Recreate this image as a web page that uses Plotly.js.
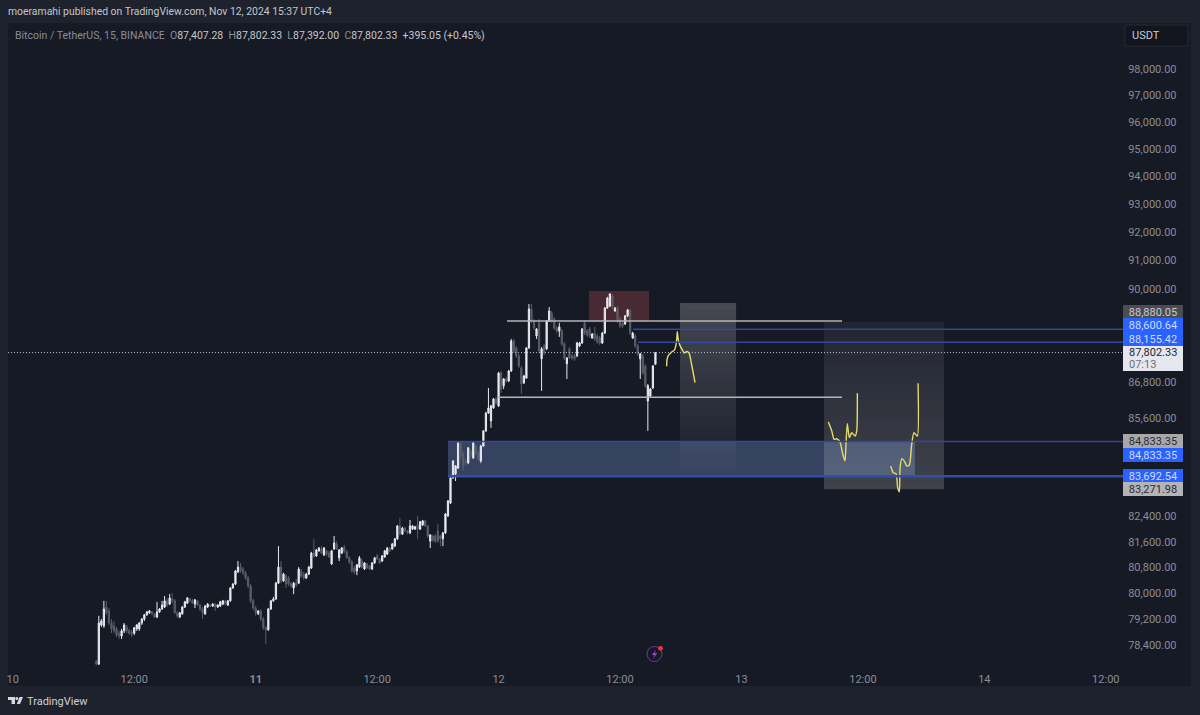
<!DOCTYPE html>
<html>
<head>
<meta charset="utf-8">
<script src="https://cdn.plot.ly/plotly-3.0.1.min.js"></script>
<style>html,body{margin:0;padding:0;background:#1e222d;overflow:hidden}#chart{width:1200px;height:715px}</style>
</head>
<body>
<div id="chart"></div>
<script>
// 15-minute BTC/USDT bars, starting 2024-11-10 08:15
const firstBarHour = 8.25;
const opens = [77910,77820,79010,78980,79560,79440,79070,78980,78890,78760,78670,78830,78950,78830,78790,78760,78890,78890,79070,79190,79320,79380,79410,79350,79250,79410,79500,79560,79750,79650,79810,79750,79380,79250,79350,79560,79680,79810,79750,79650,79750,79620,79500,79350,79560,79620,79590,79650,79560,79590,79650,79750,79620,79750,80150,80270,80650,80800,80740,80620,80460,80210,79750,79530,79350,79440,79190,78920,78860,79500,79750,79810,80300,80800,80370,80520,80460,80270,80150,80300,80300,80680,80580,80460,80580,80770,81240,81150,81310,81370,81180,81310,81240,80900,81370,81530,81090,81240,81430,81280,81090,80960,80770,80680,80800,80990,80740,80900,80840,80740,80930,81150,81060,80990,81120,81210,81400,81370,81460,81690,82100,81840,82030,81940,81880,82000,82000,82130,82000,82130,82260,82100,81620,81780,81780,81940,81780,81690,81880,82420,82830,83640,83770,83960,84780,84450,84190,84130,84520,84290,84680,84450,84190,84680,85180,85770,85510,85940,86240,86010,87110,86680,86910,86840,87180,88200,87960,87690,87280,86780,86940,87960,89300,88890,88370,88820,87590,88030,87930,88890,89160,88950,88640,88540,88540,88100,87420,87930,87690,87690,87690,88030,88130,88820,88540,88610,88300,88470,88370,88300,88130,88470,89330,89400,89750,89230,89330,88950,88820,88780,89060,89230,88300,88370,88030,87590,87690,87350,86170,86340,86610,87407.28];
const highs = [77940,79290,79190,79750,79750,79530,79190,79130,78950,78830,78890,79070,79010,78890,78860,78950,79040,79100,79220,79350,79440,79470,79440,79380,79720,79530,79750,79900,79840,79960,79990,79810,79440,79410,79590,79750,79870,79840,79810,79810,79780,79650,79560,79620,79680,79650,79680,79680,79650,79750,79780,79780,79780,80180,80300,80710,80990,80930,80800,80680,80520,80270,79810,79590,79470,79500,79250,78980,79530,79780,79870,80340,81460,80990,80620,80580,80520,80340,80340,80430,80800,80740,80650,80620,80840,81280,81690,81370,81430,81460,81430,81340,81310,81340,81780,81620,81370,81430,81500,81340,81150,81020,80840,80900,81150,81060,80960,80930,80870,80960,81120,81210,81090,81180,81340,81430,81430,81560,81720,82130,82350,82070,82070,81970,82290,82130,82100,82420,82260,82290,82290,82130,81840,81810,81840,82160,81810,81910,82510,82930,83670,84220,84060,84810,84810,84520,84260,84650,84550,84810,84720,84520,84720,85210,85810,86610,86040,86270,86310,87150,87180,86940,86980,87210,88270,88270,88030,87760,87350,87050,87990,89470,89470,88950,88640,88950,87990,88100,88920,89370,89230,89020,88710,88820,88610,88170,87650,87990,87760,87760,88170,88170,88640,88890,88610,88680,88470,88680,88440,88370,88510,89370,89720,89850,89820,89370,89400,89020,88890,89090,89300,89300,88510,88440,88100,87790,87760,87420,86740,86610,87380,87802.33];
const lows = [77790,77790,78950,78920,79320,79010,78760,78760,78640,78580,78580,78760,78760,78700,78640,78700,78830,78830,79010,79130,79290,79350,79320,79220,79220,79380,79470,79530,79560,79620,79680,79350,79220,79220,79320,79530,79650,79720,79650,79530,79590,79440,79190,79320,79530,79560,79560,79440,79530,79560,79620,79620,79590,79720,80120,80240,80620,80620,80550,80400,80150,79680,79470,79290,79320,79130,78860,78430,78830,79470,79720,79780,80270,80300,80340,80150,80210,80150,79960,80180,80270,80460,80400,80430,80550,80740,81090,81120,81280,81210,81150,81150,81090,80870,81340,81340,80990,81210,81240,81060,80900,80620,80580,80550,80770,80770,80710,80740,80710,80710,80900,81020,80900,80960,81090,81180,81280,81340,81430,81650,81810,81810,81910,81840,81840,81970,81970,81690,81970,82100,82070,81720,81400,81590,81560,81560,81460,81460,81840,82390,82800,83610,83540,83930,84260,83870,84060,84090,84260,84260,84390,84190,84130,84650,85140,85740,85280,85910,86040,85970,86440,86570,86780,86810,87150,87790,87620,87280,86410,86740,86910,87930,88820,88580,88270,87790,86510,87720,87890,88850,88820,88580,88470,88340,88030,87550,86910,87590,87550,87520,87650,87990,88100,88400,88340,88300,88270,88200,88100,88060,88100,88440,89300,89370,89300,89200,88820,88640,88640,88750,89020,88400,88270,87960,87690,86910,87050,86610,85180,86310,86570,87392.00];
const closes = [77820,79070,79130,79500,79380,79070,78890,78830,78700,78670,78830,79010,78830,78760,78730,78920,79010,79070,79190,79320,79410,79440,79350,79250,79410,79500,79620,79750,79620,79840,79750,79380,79290,79380,79560,79720,79840,79750,79680,79780,79620,79500,79380,79590,79650,79590,79650,79560,79620,79720,79750,79650,79750,80150,80270,80680,80800,80680,80620,80460,80210,79750,79530,79380,79440,79190,78920,78860,79500,79750,79810,80300,80800,80370,80580,80270,80270,80210,80300,80240,80740,80520,80460,80580,80800,81240,81150,81340,81400,81240,81400,81210,81120,81310,81560,81370,81340,81400,81280,81090,80960,80680,80650,80870,81090,80800,80930,80770,80740,80930,81090,81060,80930,81150,81310,81400,81310,81530,81690,82100,81840,82030,81940,81880,82100,82100,82070,82000,82230,82260,82100,81780,81810,81650,81620,81620,81690,81880,82480,82900,83640,84190,84030,84780,84360,84030,84130,84620,84360,84780,84450,84260,84680,85180,85770,85940,86010,86240,86110,87110,86570,86910,86840,87180,88200,87860,87690,87350,86740,87010,87960,89300,88890,88640,88610,87860,87930,87790,88890,89230,88890,88640,88540,88680,88100,87620,87620,87620,87620,87590,88130,88130,88610,88470,88400,88370,88440,88270,88170,88130,88470,89330,89680,89820,89370,89330,88890,88710,88710,89060,89270,88470,88470,88030,87760,87760,87110,86680,86680,86570,87350,87802.33];

// Hand-drawn yellow projections: hours since Nov 10 00:00, and prices
const yellowAHours = [64.61,64.64,64.77,65.01,65.17,65.36,65.50,65.60,65.66,65.76,65.93,66.20,66.35,66.59,66.82,67.08,67.41];
const yellowAPrices = [87340,87560,87700,87790,87840,87880,88010,88240,88520,88240,88040,87870,87790,87840,87790,87390,86790];
const yellowBHours = [80.58,80.92,81.15,81.41,81.74,82.01,82.23,82.33,82.46,82.66,82.90,83.22,83.39,83.45];
const yellowBPrices = [85470,85180,84900,84920,84810,84410,84190,84750,85420,84960,85120,85010,85180,86430];
const yellowCHours = [86.75,87.00,87.27,87.44,87.60,87.67,87.84,88.09,88.33,88.59,88.82,89.05,89.38,89.45];
const yellowCPrices = [84030,83810,83780,83320,83190,83970,84270,84190,84030,84060,84740,85120,85010,86770];

const priceTicks = [98000,97000,96000,95000,94000,93000,92000,91000,90000,86800,85600,82400,81600,80800,80000,79200,78400];
const timeTickHours = [0,12,24,36,48,60,72,84,96,108];
const timeTickLabels = ['10','12:00','<b>11</b>','12:00','12','12:00','13','12:00','14','12:00'];

const lastPrice = 87802.33;
const zoneTop = 84833.35, zoneBottom = 83692.54;
const upperLevelA = 88600.64, upperLevelB = 88155.42;
const whiteLevelTop = 88880.05, whiteLevelBottom = 86300;
const boxBottomPrice = 83271.98;

const rightHour = 109.7;
const iso = h => new Date(Date.UTC(2024,10,10) + h*3600e3).toISOString().slice(0,19);
const barTimes = opens.map((_, i) => iso(firstBarHour + i*0.25));

// pixel helpers for page furniture outside the data scales
const PL=8, PR=1123, PT=23, PB=665;
const fx = p => (p-PL)/(PR-PL);
const fy = p => 1-(p-PT)/(PB-PT);
const paperRect = (x0,y0,x1,y1,fill,line,layer) => ({type:'rect',xref:'paper',yref:'paper',x0:fx(x0),x1:fx(x1),y0:fy(y0),y1:fy(y1),fillcolor:fill,line:{width:line?1:0,color:line||'rgba(0,0,0,0)'},layer:layer||'below'});
const paperPath = (pts,fill) => ({type:'path',xref:'paper',yref:'paper',path:'M'+pts.map(p=>fx(p[0])+','+fy(p[1])).join('L')+'Z',fillcolor:fill,line:{width:0},layer:'above'});
const paperCircle = (cx,cy,r,fill,line) => ({type:'circle',xref:'paper',yref:'paper',x0:fx(cx-r),x1:fx(cx+r),y0:fy(cy-r),y1:fy(cy+r),fillcolor:fill,line:{width:line?1:0,color:line||'rgba(0,0,0,0)'},layer:'above'});

const dataRect = (h0,h1,p0,p1,fill,layer) => ({type:'rect',xref:'x',yref:'y',x0:iso(h0),x1:iso(h1),y0:p0,y1:p1,fillcolor:fill,line:{width:0},layer:layer||'below'});
const level = (h0,h1,p,color,width,dash,layer) => ({type:'line',xref:'x',yref:'y',x0:iso(h0),x1:iso(h1),y0:p,y1:p,line:{color,width,dash:dash||'solid'},layer:layer||'above'});

// vertical fade inside a box, as thin slices
function fade(h0,h1,pTop,pBot,aTop,aBot){
  const out=[], n=24, a=Math.log(pTop), b=Math.log(pBot);
  for(let i=0;i<n;i++){
    const t0=i/n, t1=(i+1)/n;
    out.push(dataRect(h0,h1,Math.exp(a+(b-a)*t0),Math.exp(a+(b-a)*t1),
      'rgba(255,255,255,'+(aTop+(aBot-aTop)*(t0+t1)/2).toFixed(3)+')'));
  }
  return out;
}

const shapes = [
  paperRect(8,23,1191,686,'#161a25'),
  paperRect(1125,25,1188,46,'#13151e','#262a35','above'),
  dataRect(56.94,62.87,88880,89924,'rgba(240,90,90,0.24)'),
  dataRect(43.0,89.15,zoneBottom,zoneTop,'rgba(130,165,240,0.29)'),
  ...fade(65.93,71.47,89507,83800,0.21,0.02),
  ...fade(80.16,92.02,88850,boxBottomPrice,0.05,0.18),
  level(61.29,rightHour,upperLevelA,'#2c4a9e',1.5),
  level(61.78,rightHour,upperLevelB,'#2c4a9e',1.5),
  level(43.0,rightHour,zoneTop,'#2c4a9e',1.5),
  level(43.0,rightHour,zoneBottom,'#2f4fa8',2.5),
  level(48.83,81.94,whiteLevelTop,'#b4b5b9',1.5),
  level(47.94,81.94,whiteLevelBottom,'#b4b5b9',1.5),
  level(-0.48,rightHour,lastPrice,'#c8c9cf',1,'1px,2px'),
  paperRect(1123,346,1183,371,'#e6e7ee',null,'above'),
  // TradingView logo
  paperPath([[8,697],[15,697],[15,704],[11.5,704],[11.5,700],[8,700]],'#d8d9de'),
  paperCircle(16.8,698.4,1.5,'#d8d9de'),
  paperPath([[23,697],[20,704],[16.8,704],[19.6,697]],'#d8d9de'),
  // bolt badge
  paperCircle(654.5,654,7.5,'rgba(0,0,0,0)','#6f3a96'),
  paperPath([[656.2,649.5],[651.8,655],[654.4,655],[653,658.8],[657.2,653.3],[654.6,653.3]],'#9a48c8'),
  paperCircle(660.5,648.3,2.4,'#f23645')
];

const txt = (px,py,text,color,size,anchor) => ({xref:'paper',yref:'paper',x:fx(px),y:fy(py),text,showarrow:false,xanchor:anchor||'left',yanchor:'middle',font:{family:'Roboto',size:size||11,color:color||'#c8cad0'},borderpad:0,borderwidth:0});
const priceTag = (price,label,bg,color,yshift) => ({xref:'paper',yref:'y',x:1,y:Math.log10(price),xanchor:'left',yanchor:'middle',yshift,text:label,showarrow:false,width:60,height:14,align:'center',valign:'middle',bgcolor:bg,borderpad:0,borderwidth:0,font:{family:'Roboto',size:11,color}});

const G='#8a8d96', V='#c6c8ce';
const annotations = [
  txt(8,12,'moeramahi published on TradingView.com, Nov 12, 2024 15:37 UTC+4','#c4c6cc',10.4),
  txt(15,35,`<span style="color:${G}">Bitcoin / TetherUS, 15, BINANCE  O</span><span style="color:${V}">87,407.28</span><span style="color:${G}">  H</span><span style="color:${V}">87,802.33</span><span style="color:${G}">  L</span><span style="color:${V}">87,392.00</span><span style="color:${G}">  C</span><span style="color:${V}">87,802.33  +395.05 (+0.45%)</span>`,G,10.5),
  txt(1132,35.5,'USDT','#c8cad0',11),
  txt(27,701,'TradingView','#d0d1d6',11),
  priceTag(whiteLevelTop,'88,880.05','#4b4d54','#c9cbd0',9),
  priceTag(upperLevelA,'88,600.64','#2962ff','#cfdcff',4),
  priceTag(upperLevelB,'88,155.42','#2962ff','#cfdcff',3),
  priceTag(zoneTop,'84,833.35','#a8a8ab','#2a2c33',0),
  priceTag(zoneTop,'84,833.35','#2962ff','#cfdcff',-14),
  priceTag(zoneBottom,'83,692.54','#2962ff','#cfdcff',0),
  priceTag(boxBottomPrice,'83,271.98','#b4b4b7','#2a2c33',0),
  txt(1129,352.5,'87,802.33','#24262e',11),
  txt(1129,364.5,'07:13','#6c6e78',11)
];

const yellow = (hours,prices) => ({type:'scatter',mode:'lines',x:hours.map(iso),y:prices,line:{color:'#e8d96a',width:1.4,shape:'spline',smoothing:0.6},hoverinfo:'skip',showlegend:false});

const traces = [
  {type:'candlestick',x:barTimes,open:opens,high:highs,low:lows,close:closes,
   increasing:{line:{color:'#e8e9f0',width:1},fillcolor:'#e8e9f0'},
   decreasing:{line:{color:'#5a5d69',width:1},fillcolor:'#5a5d69'},
   whiskerwidth:0,hoverinfo:'skip',showlegend:false},
  yellow(yellowAHours,yellowAPrices),
  yellow(yellowBHours,yellowBPrices),
  yellow(yellowCHours,yellowCPrices)
];

const layout = {
  width:1200,height:715,
  margin:{l:PL,r:1200-PR,t:PT,b:715-PB,pad:0},
  paper_bgcolor:'#1e222d',plot_bgcolor:'#161a25',
  showlegend:false,dragmode:false,
  xaxis:{type:'date',range:[iso(-0.474),iso(rightHour)],rangeslider:{visible:false},
    tickmode:'array',tickvals:timeTickHours.map(iso),ticktext:timeTickLabels,
    showgrid:false,zeroline:false,showline:false,ticks:'outside',ticklen:4,tickcolor:'rgba(0,0,0,0)',
    tickfont:{family:'Roboto',size:11,color:'#8a8d96'}},
  yaxis:{type:'log',side:'right',range:[4.89094,4.99897],
    tickmode:'array',tickvals:priceTicks,ticktext:priceTicks.map(v=>v.toLocaleString('en-US',{minimumFractionDigits:2})),
    showgrid:false,zeroline:false,showline:false,ticks:'outside',ticklen:2,tickcolor:'rgba(0,0,0,0)',
    tickfont:{family:'Roboto',size:11,color:'#8a8d96'}},
  shapes,annotations
};
Plotly.newPlot('chart',traces,layout,{displayModeBar:false,staticPlot:true});
</script>
</body>
</html>
